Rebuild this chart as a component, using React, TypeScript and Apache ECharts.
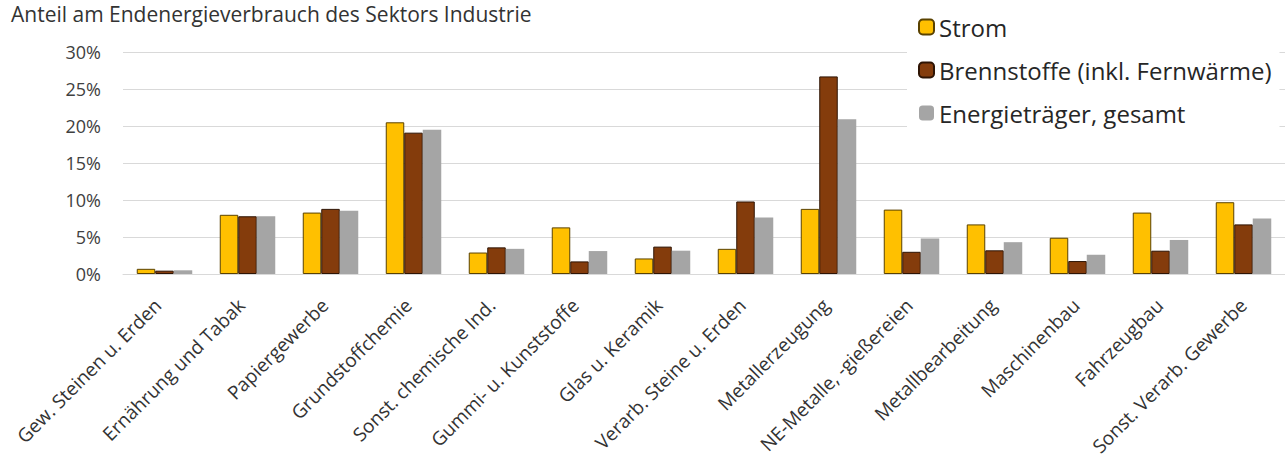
import React, { useEffect, useRef } from "react";
import * as echarts from "echarts";

const categories = [
  "Gew. Steinen u. Erden",
  "Ernährung und Tabak",
  "Papiergewerbe",
  "Grundstoffchemie",
  "Sonst. chemische Ind.",
  "Gummi- u. Kunststoffe",
  "Glas u. Keramik",
  "Verarb. Steine u. Erden",
  "Metallerzeugung",
  "NE-Metalle, -gießereien",
  "Metallbearbeitung",
  "Maschinenbau",
  "Fahrzeugbau",
  "Sonst. Verarb. Gewerbe",
];

const strom = [0.7, 8.0, 8.3, 20.5, 2.9, 6.3, 2.1, 3.4, 8.8, 8.7, 6.7, 4.9, 8.3, 9.7];
const brennstoffe = [0.45, 7.8, 8.8, 19.1, 3.6, 1.7, 3.7, 9.8, 26.7, 3.0, 3.2, 1.75, 3.15, 6.7];
const gesamt = [0.5, 7.8, 8.55, 19.5, 3.4, 3.1, 3.15, 7.65, 20.9, 4.8, 4.3, 2.6, 4.6, 7.5];

const seriesNames = ["Strom", "Brennstoffe (inkl. Fernwärme)", "Energieträger, gesamt"];
const yTicks = { min: 0, max: 30, interval: 5 };
const title = "Anteil am Endenergieverbrauch des Sektors Industrie";

const FONT = "'Open Sans', 'Noto Sans', sans-serif";

export default function App() {
  const ref = useRef<HTMLDivElement>(null);
  useEffect(() => {
    if (!ref.current) return;
    const chart = echarts.init(ref.current, undefined, { renderer: "svg" });
    chart.setOption({
      animation: false,
      backgroundColor: "#ffffff",
      title: {
        text: title,
        left: 6,
        top: 2,
        padding: [0, 5, 2, 5],
        textStyle: { fontFamily: FONT, fontSize: 21, lineHeight: 24, fontWeight: "normal", color: "#333333" },
      },
      legend: {
        orient: "vertical",
        left: 907,
        top: 5,
        padding: [10, 8, 14, 11],
        backgroundColor: "#ffffff",
        itemWidth: 15,
        itemHeight: 15,
        itemGap: 19,
        textStyle: { fontFamily: FONT, fontSize: 24, color: "#262626" },
        data: seriesNames,
      },
      grid: [
        { left: 123, width: 1172, top: 52, bottom: 191, containLabel: false },
        { left: 116, width: 1172, top: 52, bottom: 191, containLabel: false },
      ],
      xAxis: [
        {
          type: "category",
          gridIndex: 0,
          data: categories,
          axisLine: { lineStyle: { color: "#D9D9D9", width: 1 } },
          axisTick: { show: false },
          axisLabel: { show: false },
        },
        {
          type: "category",
          gridIndex: 1,
          data: categories,
          axisLine: { show: false },
          axisTick: { show: false },
          splitLine: { show: false },
          axisLabel: {
            rotate: 45,
            margin: 28,
            interval: 0,
            fontFamily: FONT,
            fontSize: 19,
            color: "#333333",
          },
        },
      ],
      yAxis: [
        {
          type: "value",
          gridIndex: 0,
          min: yTicks.min,
          max: yTicks.max,
          interval: yTicks.interval,
          axisLine: { show: false },
          axisTick: { show: false },
          splitLine: { lineStyle: { color: "#D9D9D9", width: 1 } },
          axisLabel: {
            formatter: "{value}%",
            margin: 22,
            fontFamily: FONT,
            fontSize: 18,
            color: "#404040",
          },
        },
        { type: "value", gridIndex: 1, show: false, min: 0, max: 30 },
      ],
      series: [
        {
          name: seriesNames[0],
          type: "bar",
          data: strom,
          barWidth: 18.5,
          barGap: "0%",
          itemStyle: { color: "#FFC000", borderColor: "#5a4200", borderWidth: 1 },
        },
        {
          name: seriesNames[1],
          type: "bar",
          data: brennstoffe,
          barWidth: 18.5,
          barGap: "0%",
          itemStyle: { color: "#843C0C", borderColor: "#2e1404", borderWidth: 1 },
        },
        {
          name: seriesNames[2],
          type: "bar",
          data: gesamt,
          barWidth: 18.5,
          barGap: "0%",
          itemStyle: { color: "#A5A5A5" },
        },
      ],
    });
    return () => chart.dispose();
  }, []);
  return (
    <div
      ref={ref}
      style={{ position: "absolute", left: 0, top: 0, width: 1285, height: 465 }}
    />
  );
}
